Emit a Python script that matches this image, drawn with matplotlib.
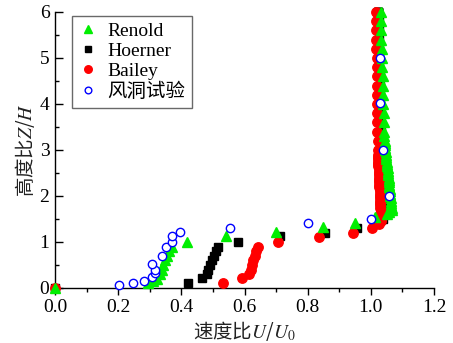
import matplotlib
matplotlib.use("Agg")
import matplotlib.pyplot as plt
from matplotlib.ticker import MultipleLocator

plt.rcParams['font.family'] = ['Liberation Serif', 'Noto Sans CJK SC']
plt.rcParams['mathtext.fontset'] = 'stix'

# ---------------- data ----------------
renold_u = [0.0, 0.293, 0.310, 0.322, 0.332, 0.338, 0.343, 0.348, 0.355, 0.362, 0.370,
            0.419, 0.543, 0.700, 0.847, 0.949, 1.013,
            1.050, 1.058, 1.066, 1.066, 1.065, 1.064, 1.064, 1.063, 1.062, 1.061,
            1.060, 1.060, 1.059, 1.058, 1.057, 1.057, 1.056, 1.055, 1.054, 1.053,
            1.053, 1.052, 1.051, 1.050, 1.049, 1.049, 1.048, 1.047, 1.046, 1.046,
            1.045, 1.044, 1.044, 1.043,
            1.043, 1.042, 1.041, 1.040, 1.039, 1.038, 1.037, 1.036, 1.035, 1.034,
            1.033, 1.032, 1.032, 1.031]
renold_z = [0.0, 0.10, 0.15, 0.20, 0.30, 0.40, 0.50, 0.60, 0.70, 0.80, 0.90,
            1.01, 1.12, 1.22, 1.32, 1.42, 1.54,
            1.60, 1.65, 1.70, 1.75, 1.80, 1.85, 1.90, 1.95, 2.00, 2.05,
            2.10, 2.15, 2.20, 2.25, 2.30, 2.35, 2.40, 2.45, 2.50, 2.55,
            2.60, 2.65, 2.70, 2.75, 2.80, 2.85, 2.90, 2.95, 3.00, 3.05,
            3.10, 3.15, 3.20, 3.30,
            3.40, 3.60, 3.80, 4.00, 4.20, 4.40, 4.60, 4.80, 5.00, 5.20,
            5.40, 5.60, 5.80, 6.00]

hoerner_u = [0.0, 0.422, 0.464, 0.480, 0.486, 0.492, 0.498, 0.504, 0.510, 0.517,
             0.580, 0.712, 0.854, 0.955, 1.013,
             1.040, 1.040, 1.039, 1.039, 1.038, 1.038, 1.037, 1.037, 1.036, 1.036,
             1.035, 1.035, 1.034, 1.034, 1.033, 1.033, 1.032, 1.032, 1.031, 1.031,
             1.030, 1.030, 1.030,
             1.029, 1.028, 1.028, 1.027, 1.027, 1.026, 1.026, 1.025, 1.025, 1.024,
             1.024, 1.024, 1.023, 1.023]
hoerner_z = [0.0, 0.10, 0.21, 0.30, 0.40, 0.50, 0.60, 0.70, 0.80, 0.90,
             1.01, 1.12, 1.20, 1.30, 1.44,
             1.50, 1.60, 1.70, 1.80, 1.90, 2.00, 2.10, 2.20, 2.30, 2.40,
             2.50, 2.60, 2.70, 2.80, 2.90, 3.00, 3.10, 3.20, 3.30, 3.40,
             3.60, 3.80, 4.00,
             4.20, 4.40, 4.60, 4.80, 5.00, 5.20, 5.40, 5.60, 5.80, 6.00,
             6.00, 6.00, 6.00, 6.00]

bailey_u = [0.0, 0.533, 0.591, 0.615, 0.620, 0.624, 0.628, 0.632, 0.637, 0.642,
            0.707, 0.835, 0.944, 1.004, 1.025,
            1.032, 1.032, 1.032, 1.031, 1.031, 1.031, 1.030, 1.030, 1.030, 1.029,
            1.029, 1.029, 1.028, 1.028, 1.028, 1.027, 1.027, 1.027, 1.026, 1.026,
            1.026, 1.025, 1.025, 1.025, 1.024, 1.024, 1.024, 1.023, 1.023, 1.023,
            1.022, 1.022,
            1.021, 1.021, 1.020, 1.020, 1.019, 1.019, 1.018, 1.018, 1.018, 1.017,
            1.017, 1.017, 1.016, 1.016]
bailey_z = [0.0, 0.10, 0.21, 0.30, 0.40, 0.50, 0.60, 0.70, 0.80, 0.90,
            1.01, 1.10, 1.20, 1.30, 1.40,
            1.45, 1.50, 1.55, 1.60, 1.65, 1.70, 1.75, 1.80, 1.85, 1.90,
            1.95, 2.00, 2.05, 2.10, 2.15, 2.20, 2.25, 2.30, 2.35, 2.40,
            2.45, 2.50, 2.55, 2.60, 2.65, 2.70, 2.75, 2.80, 2.85, 2.90,
            3.00, 3.20,
            3.40, 3.60, 3.80, 4.00, 4.20, 4.40, 4.60, 4.80, 5.00, 5.20,
            5.40, 5.60, 5.80, 6.00]

wind_u = [0.203, 0.248, 0.282, 0.306, 0.316, 0.316, 0.306, 0.340, 0.351, 0.372,
          0.372, 0.396, 0.554, 0.800, 1.002, 1.058, 1.040, 1.028, 1.030]
wind_z = [0.065, 0.10, 0.15, 0.23, 0.32, 0.39, 0.52, 0.70, 0.90, 1.01,
          1.13, 1.21, 1.30, 1.42, 1.51, 2.01, 3.01, 4.03, 5.01]

x_ticks = [0.0, 0.2, 0.4, 0.6, 0.8, 1.0, 1.2]
x_ticklabels = ['0.0', '0.2', '0.4', '0.6', '0.8', '1.0', '1.2']
y_ticks = [0, 1, 2, 3, 4, 5, 6]
labels = ['Renold', 'Hoerner', 'Bailey', '风洞试验']

# ---------------- figure ----------------
fig = plt.figure(figsize=(4.53, 3.43), dpi=100)
ax = fig.add_axes([55/453, 55/343, 379/453, 276/343])

h_ho, = ax.plot(hoerner_u, hoerner_z, ls='none', marker='s', ms=5.2, color='black',
                clip_on=False, zorder=3)
h_ba, = ax.plot(bailey_u, bailey_z, ls='none', marker='o', ms=6.8, color='#ff0000',
                mec='#ff0000', clip_on=False, zorder=4)
h_re, = ax.plot(renold_u, renold_z, ls='none', marker='^', ms=7.0, color='#00ee00',
                mec='#00ee00', clip_on=False, zorder=5)
h_wi, = ax.plot(wind_u, wind_z, ls='none', marker='o', ms=6.0, mfc='white',
                mec='#0000ff', mew=1.0, clip_on=False, zorder=6)

ax.set_xlim(0, 1.2)
ax.set_ylim(0, 6)
ax.set_xticks(x_ticks)
ax.set_xticklabels(x_ticklabels)
ax.set_yticks(y_ticks)
ax.xaxis.set_minor_locator(MultipleLocator(0.1))
ax.yaxis.set_minor_locator(MultipleLocator(0.5))
ax.tick_params(axis='x', which='major', direction='out', length=5, width=1,
               labelsize=14, pad=3)
ax.tick_params(axis='x', which='minor', direction='out', length=3, width=1)
ax.tick_params(axis='y', which='major', direction='in', length=5.5, width=1,
               labelsize=14, pad=4)
ax.tick_params(axis='y', which='minor', direction='in', length=3, width=1)

for s in ['top', 'right']:
    ax.spines[s].set_visible(False)
for s in ['left', 'bottom']:
    ax.spines[s].set_linewidth(1.0)

cjk = ['Noto Sans CJK SC', 'Liberation Serif']
ax.set_xlabel('速度比$\\mathit{U}$/$\\mathit{U}_0$', fontsize=14, family=cjk,
              color='#222222', labelpad=2)
ax.set_ylabel('高度比$\\mathit{Z}$/$\\mathit{H}$', fontsize=14, family=cjk,
              color='#222222', labelpad=2)

leg = ax.legend([h_re, h_ho, h_ba, h_wi], labels, loc='upper left',
                bbox_to_anchor=(0.045, 0.986), borderaxespad=0,
                prop={'family': ['Liberation Serif', 'Noto Sans CJK SC'], 'size': 14},
                handlelength=0.9, handletextpad=0.55, labelspacing=0.12,
                borderpad=0.35, frameon=True, fancybox=False, markerscale=0.8)
leg.get_frame().set_edgecolor('#444444')
leg.get_frame().set_linewidth(1.0)

fig.savefig('out.png', dpi=100)
